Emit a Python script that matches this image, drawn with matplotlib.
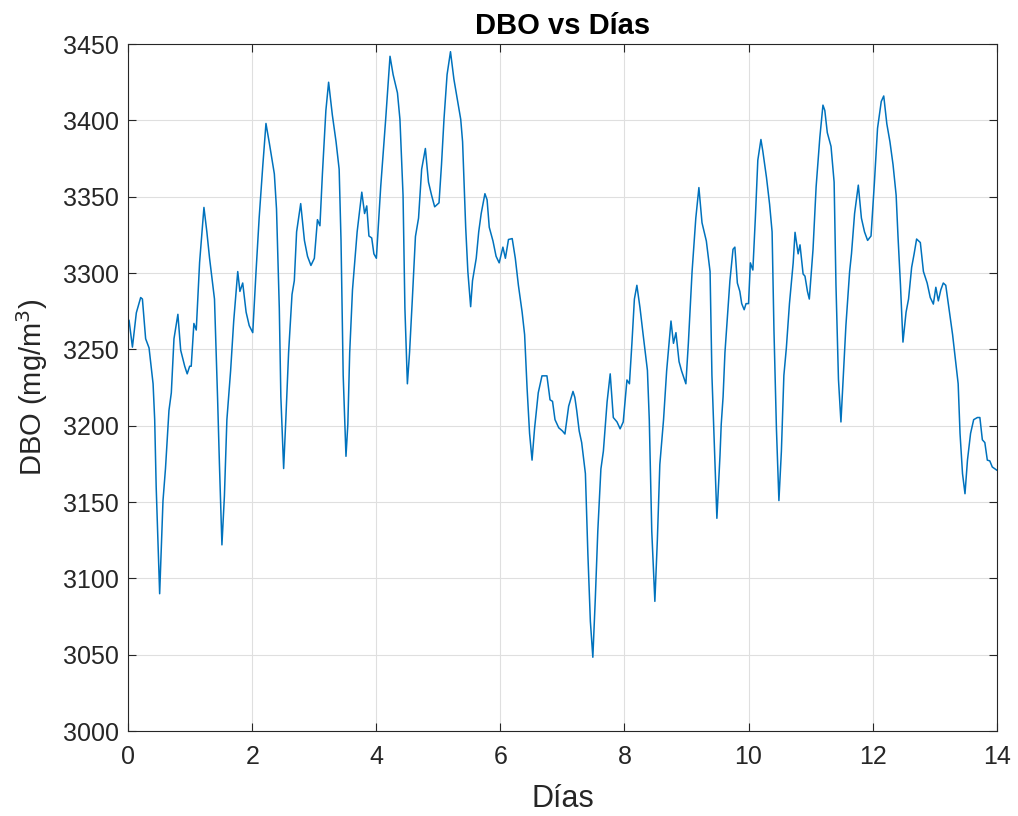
import numpy as np
import matplotlib.pyplot as plt

# values (days, DBO mg/m3)
dias = [0.013, 0.067, 0.13, 0.20, 0.228, 0.28, 0.335, 0.40, 0.426, 0.45, 0.506, 0.56, 0.60,
        0.656, 0.694, 0.737, 0.80, 0.845, 0.91, 0.95, 0.99, 1.015, 1.058, 1.096, 1.15, 1.22,
        1.267, 1.31, 1.39, 1.44, 1.47, 1.51, 1.55, 1.59, 1.65, 1.70, 1.765, 1.80, 1.845, 1.90,
        1.95, 2.007, 2.06, 2.11, 2.17, 2.22, 2.275, 2.355, 2.39, 2.435, 2.46, 2.505, 2.54,
        2.585, 2.64, 2.677, 2.714, 2.78, 2.84, 2.89, 2.945, 3.0, 3.05, 3.09, 3.13, 3.186, 3.23,
        3.29, 3.35, 3.40, 3.43, 3.465, 3.51, 3.54, 3.57, 3.615, 3.69, 3.765, 3.81, 3.845, 3.88,
        3.925, 3.96, 4.0, 4.07, 4.15, 4.22, 4.27, 4.34, 4.38, 4.43, 4.46, 4.5, 4.535, 4.58,
        4.63, 4.68, 4.73, 4.79, 4.84, 4.89, 4.94, 5.01, 5.05, 5.09, 5.14, 5.195, 5.25, 5.30,
        5.36, 5.39, 5.44, 5.475, 5.52, 5.55, 5.61, 5.65, 5.69, 5.75, 5.785, 5.82, 5.88, 5.93,
        5.98, 6.04, 6.08, 6.13, 6.19, 6.24, 6.29, 6.35, 6.39, 6.43, 6.47, 6.51, 6.55, 6.61,
        6.67, 6.75, 6.80, 6.84, 6.88, 6.94, 7.0, 7.04, 7.10, 7.17, 7.20, 7.23, 7.27, 7.31,
        7.37, 7.41, 7.45, 7.49, 7.53, 7.57, 7.62, 7.66, 7.72, 7.77, 7.82, 7.88, 7.93, 7.98,
        8.04, 8.08, 8.12, 8.16, 8.20, 8.25, 8.30, 8.37, 8.40, 8.44, 8.49, 8.53, 8.57, 8.63,
        8.68, 8.75, 8.79, 8.83, 8.88, 8.92, 8.99, 9.03, 9.09, 9.15, 9.20, 9.25, 9.32, 9.38,
        9.41, 9.46, 9.49, 9.54, 9.56, 9.59, 9.62, 9.64, 9.70, 9.75, 9.78, 9.82, 9.86, 9.89,
        9.93, 9.96, 10.0, 10.03, 10.07, 10.11, 10.15, 10.20, 10.23, 10.29, 10.34, 10.38,
        10.41, 10.45, 10.49, 10.53, 10.57, 10.61, 10.66, 10.72, 10.75, 10.80, 10.83, 10.88,
        10.91, 10.95, 10.98, 11.04, 11.09, 11.15, 11.2, 11.23, 11.27, 11.33, 11.38, 11.41,
        11.45, 11.49, 11.54, 11.57, 11.63, 11.66, 11.71, 11.77, 11.82, 11.87, 11.92, 11.975,
        12.03, 12.08, 12.14, 12.18, 12.23, 12.28, 12.33, 12.38, 12.41, 12.45, 12.49, 12.54,
        12.58, 12.63, 12.67, 12.71, 12.77, 12.82, 12.88, 12.93, 12.98, 13.02, 13.06, 13.10,
        13.14, 13.18, 13.24, 13.29, 13.34, 13.38, 13.41, 13.45, 13.49, 13.53, 13.58, 13.63,
        13.69, 13.73, 13.77, 13.81, 13.85, 13.89, 13.93, 14.0]
dbo = [3269, 3251.5, 3274, 3284, 3283, 3257, 3251, 3227.5, 3204, 3160, 3090, 3151, 3172,
       3210, 3221.6, 3257, 3273, 3249.5, 3239, 3234, 3239, 3239, 3267, 3262.7, 3307, 3343,
       3327, 3310, 3283, 3218, 3174.6, 3122, 3154, 3204, 3236, 3268.6, 3301, 3288, 3293.5,
       3274.4, 3265.6, 3261, 3301, 3336, 3371, 3398, 3385, 3365, 3342, 3277, 3219, 3172,
       3204, 3248, 3286, 3295, 3327, 3345.5, 3321.4, 3311, 3305, 3309.7, 3335, 3331, 3365,
       3406.5, 3425, 3403.6, 3386, 3368, 3321.4, 3233, 3180, 3201, 3248, 3289, 3327, 3353,
       3339, 3344, 3324.3, 3323, 3312.6, 3309.7, 3356.6, 3400.7, 3442, 3430, 3418, 3400.7,
       3351, 3277, 3227.5, 3248, 3283, 3324, 3336, 3368, 3381.6, 3359.6, 3351, 3343.4, 3346,
       3371, 3400.7, 3430, 3445, 3427, 3415, 3400.7, 3386, 3330, 3301, 3278, 3295, 3309.7,
       3327, 3339, 3352, 3348, 3330, 3321, 3311, 3306.7, 3317, 3309.7, 3322, 3322.6, 3309.7,
       3292, 3274.4, 3259.7, 3224.5, 3195, 3177.5, 3198, 3221.6, 3232.7, 3232.7, 3217, 3216,
       3204, 3198.7, 3196.6, 3194.6, 3212.8, 3222.5, 3218.6, 3210, 3196.6, 3189, 3168.7,
       3116, 3072, 3048.4, 3087, 3131, 3171.7, 3183.4, 3215.7, 3234, 3205.4, 3202.5, 3198,
       3202.5, 3230, 3227.5, 3254, 3283, 3292, 3277.4, 3260, 3236.3, 3204, 3131, 3085, 3125,
       3174.6, 3204, 3236, 3268.6, 3254, 3261, 3242, 3236, 3227.5, 3254, 3301, 3336, 3356,
       3333, 3321, 3301, 3233, 3174.6, 3139.4, 3180.5, 3201, 3219, 3248, 3260, 3295, 3315.6,
       3317, 3293.5, 3288, 3280, 3276, 3280, 3280, 3306.7, 3302, 3336, 3374, 3387.5, 3380,
       3362.5, 3345, 3327, 3262.7, 3198, 3151, 3183.4, 3233, 3251, 3280, 3306.7, 3326.7,
       3312.6, 3318.5, 3299.4, 3298, 3288, 3283, 3315.6, 3356.6, 3389, 3410, 3406.5, 3392,
       3383, 3359.6, 3292, 3230.4, 3202.5, 3242, 3265.6, 3301, 3312.6, 3339, 3357.6, 3336,
       3327, 3321.4, 3324.3, 3359.6, 3394.8, 3412.4, 3416, 3397.7, 3386, 3371, 3351, 3324,
       3292, 3254.8, 3274.4, 3283, 3303.8, 3312.6, 3322.3, 3320, 3301, 3293.5, 3284, 3279.7,
       3290.7, 3281.8, 3289, 3293.5, 3292, 3274.4, 3259.7, 3242, 3227.5, 3195, 3168.7,
       3155.5, 3177.5, 3195, 3204, 3205.4, 3205.4, 3190.8, 3189, 3177.5, 3177, 3173, 3171]

x_ticks = [0, 2, 4, 6, 8, 10, 12, 14]
y_ticks = [3000, 3050, 3100, 3150, 3200, 3250, 3300, 3350, 3400, 3450]

plt.rcParams['font.family'] = ['Liberation Sans', 'DejaVu Sans']

fig = plt.figure(figsize=(10.18, 8.16), dpi=100)
ax = fig.add_axes([0.126, 0.104, 0.853, 0.842])

ax.plot(dias, dbo, '-', color='#0072BD', linewidth=1.1, solid_joinstyle='round')

ax.set_xlim(0, 14)
ax.set_ylim(3000, 3450)
ax.set_xticks(x_ticks)
ax.set_yticks(y_ticks)
ax.grid(True, color='#dfdfdf', linewidth=0.8)
ax.set_axisbelow(True)
ax.tick_params(direction='in', top=True, right=True, labelsize=18,
               colors='#262626', length=6, width=0.8)
ax.tick_params(axis='x', pad=10)
ax.tick_params(axis='y', pad=7)
for s in ax.spines.values():
    s.set_color('#262626')
    s.set_linewidth(0.8)

ax.set_title('DBO vs Días', fontsize=21, fontweight='bold', color='black', pad=7.5)
ax.set_xlabel('Días', fontsize=22, color='#262626', labelpad=11)
ax.set_ylabel('DBO (mg/m$^3$)', fontsize=21, color='#262626', labelpad=9)

fig.savefig('out.png', dpi=100)
